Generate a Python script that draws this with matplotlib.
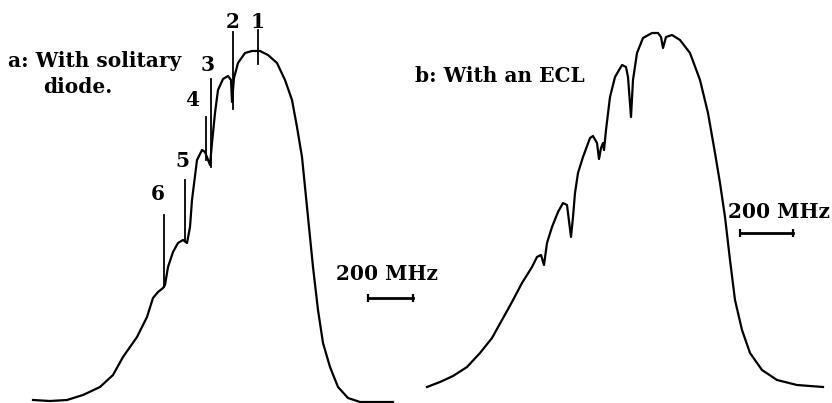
import matplotlib
matplotlib.use("Agg")
import matplotlib.pyplot as plt

# curve a: solitary diode (pixel units, y down)
a_x = [33, 50, 67, 83, 100, 113, 123, 137, 147, 153, 158, 163, 165, 168, 173, 178,
       183, 187, 190, 192, 197, 202, 205, 210, 212, 215, 218, 223, 228, 231, 232, 234,
       238, 245, 252, 260, 268, 277, 285, 292, 297, 302, 305, 308, 313, 318, 323, 330,
       338, 348, 360, 393]
a_y = [400, 401, 400, 395, 387, 375, 357, 337, 317, 298, 292, 288, 285, 267, 252, 243,
       240, 243, 227, 200, 160, 150, 152, 165, 143, 113, 90, 79, 76, 80, 102, 78,
       63, 53, 51, 51, 55, 63, 80, 100, 127, 157, 187, 217, 267, 310, 343, 367,
       387, 398, 402, 402]

# curve b: with an ECL
b_x = [427, 440, 453, 467, 480, 492, 502, 512, 522, 532, 537, 541, 544, 547, 552, 558,
       563, 567, 571, 573, 575, 578, 583, 590, 593, 597, 599, 601, 603, 604, 606, 610,
       615, 622, 626, 628, 631, 633, 637, 643, 652, 658, 661, 663, 666, 672, 680, 690,
       700, 708, 715, 720, 725, 730, 735, 742, 750, 762, 777, 797, 823]
b_y = [387, 382, 376, 367, 353, 338, 320, 302, 283, 267, 257, 255, 265, 243, 227, 212,
       203, 205, 237, 217, 193, 173, 157, 138, 136, 143, 159, 148, 143, 150, 130, 97,
       77, 65, 67, 77, 117, 80, 53, 38, 33, 33, 37, 48, 37, 35, 40, 53,
       80, 113, 153, 183, 217, 260, 300, 330, 353, 370, 380, 385, 387]

# mode markers on curve a
mode_labels = ["1", "2", "3", "4", "5", "6"]
mode_x = [257.5, 232.5, 210.5, 205.5, 185, 163.5]
mode_top = [30, 32, 79, 117, 180, 215]
mode_bot = [64, 109, 167, 160, 240, 287]
label_x = [257.5, 232.5, 207.5, 192.5, 182.5, 158]
label_y = [28, 28, 71, 106, 167, 200]

fig = plt.figure(figsize=(8.32, 4.03), dpi=100)
ax = fig.add_axes([0, 0, 1, 1])
ax.set_xlim(0, 832)
ax.set_ylim(403, 0)
ax.axis("off")

lw = 1.6
ax.plot(a_x, a_y, color="black", lw=lw, solid_joinstyle="round")
ax.plot(b_x, b_y, color="black", lw=lw, solid_joinstyle="round")

font = dict(family="DejaVu Serif", weight="bold", fontsize=14.5, color="black")

for lab, x, t, b, lx, ly in zip(mode_labels, mode_x, mode_top, mode_bot, label_x, label_y):
    ax.plot([x, x], [t, b], color="black", lw=1.3)
    ax.text(lx, ly, lab, ha="center", va="baseline", **font)

ax.text(8, 67, "a: With solitary", ha="left", va="baseline", **font)
ax.text(43, 93, "diode.", ha="left", va="baseline", **font)
ax.text(415, 82, "b: With an ECL", ha="left", va="baseline", **font)

# 200 MHz scale bars
ax.text(336, 280, "200 MHz", ha="left", va="baseline", **font)
ax.plot([368, 413], [298, 298], color="black", lw=2.0, marker="|", markersize=6, mew=1.6)
ax.text(728, 218, "200 MHz", ha="left", va="baseline", **font)
ax.plot([740, 793], [233, 233], color="black", lw=2.0, marker="|", markersize=6, mew=1.6)

fig.savefig("out.png", dpi=100)
